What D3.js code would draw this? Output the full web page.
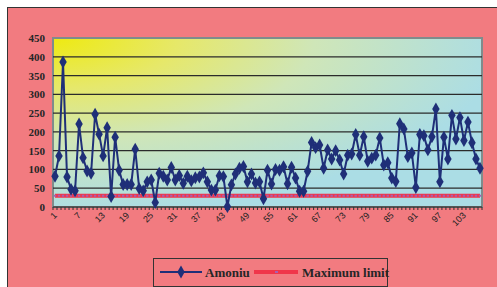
<!DOCTYPE html>
<html>
<head>
<meta charset="utf-8">
<script src="https://cdn.jsdelivr.net/npm/d3@7"></script>
<style>
  body { margin: 0; background: #fff; }
  svg { display: block; }
</style>
</head>
<body>
<div id="chart"></div>
<script>
// Chart data
const seriesNames = ["Amoniu", "Maximum limit"];
const amoniu = [
    82, 136, 386, 80, 47, 43, 221, 131, 96, 90,
    247, 194, 136, 211, 28, 186, 98, 60, 60, 60,
    154, 49, 43, 67, 72, 12, 90, 82, 72, 105,
    72, 84, 63, 82, 70, 78, 80, 91, 67, 45,
    45, 83, 81, 1, 59, 88, 103, 108, 67, 88,
    64, 67, 22, 98, 61, 100, 98, 107, 62, 106,
    77, 42, 42, 95, 172, 158, 165, 103, 152, 128,
    150, 125, 88, 138, 141, 193, 138, 187, 122, 130,
    138, 184, 112, 118, 77, 68, 222, 208, 134, 144,
    52, 193, 190, 152, 187, 261, 67, 186, 128, 244,
    181, 238, 177, 226, 171, 128, 103
];
const maxLimit = amoniu.map(() => 30);
const categories = amoniu.map((_, i) => i + 1);
const yTicks = [0, 50, 100, 150, 200, 250, 300, 350, 400, 450];
const xLabels = categories.filter(c => (c - 1) % 6 === 0);

const width = 497, height = 287;
const plot = { left: 53, top: 38, right: 482, bottom: 207 };

const svg = d3.select("#chart").append("svg")
    .attr("width", width)
    .attr("height", height);

const defs = svg.append("defs");
const grad = defs.append("radialGradient")
    .attr("id", "plotBg")
    .attr("cx", 0).attr("cy", 0).attr("r", 1.05)
    .attr("fx", 0).attr("fy", 0);
grad.append("stop").attr("offset", "0%").attr("stop-color", "#eeea10");
grad.append("stop").attr("offset", "28%").attr("stop-color", "#e6e86a");
grad.append("stop").attr("offset", "58%").attr("stop-color", "#cfe6b8");
grad.append("stop").attr("offset", "100%").attr("stop-color", "#abdde5");

// chart area (pink) with border top/left
svg.append("rect")
    .attr("x", 7.5).attr("y", 7.5)
    .attr("width", width).attr("height", height)
    .attr("fill", "#f27b80")
    .attr("stroke", "#333")
    .attr("stroke-width", 1);

const x = d3.scaleBand()
    .domain(categories)
    .range([plot.left, plot.right])
    .padding(0);
const cx = d => x(d) + x.bandwidth() / 2;

const y = d3.scaleLinear()
    .domain([0, 450])
    .range([plot.bottom, plot.top]);

// plot area
svg.append("rect")
    .attr("x", plot.left).attr("y", plot.top)
    .attr("width", plot.right - plot.left)
    .attr("height", plot.bottom - plot.top)
    .attr("fill", "url(#plotBg)")
    .attr("stroke", "#7f8c8c")
    .attr("stroke-width", 2);

// gridlines
svg.append("g")
    .selectAll("line")
    .data(yTicks.filter(t => t > 0 && t < 450))
    .join("line")
    .attr("x1", plot.left).attr("x2", plot.right)
    .attr("y1", d => y(d)).attr("y2", d => y(d))
    .attr("stroke", "#2b2b2b")
    .attr("stroke-width", 1.3);

// y axis labels
svg.append("g")
    .selectAll("text")
    .data(yTicks)
    .join("text")
    .attr("x", 45)
    .attr("y", d => y(d) + 4)
    .attr("text-anchor", "end")
    .style("font-family", "'Liberation Serif', serif")
    .style("font-weight", "bold")
    .style("font-size", "11px")
    .style("fill", "#262626")
    .text(d => d);

// x axis line + ticks
svg.append("line")
    .attr("x1", plot.left).attr("x2", plot.right)
    .attr("y1", plot.bottom).attr("y2", plot.bottom)
    .attr("stroke", "#555").attr("stroke-width", 2);
svg.append("g")
    .selectAll("line")
    .data(categories.concat([categories.length + 1]))
    .join("line")
    .attr("x1", d => plot.left + (d - 1) * x.bandwidth())
    .attr("x2", d => plot.left + (d - 1) * x.bandwidth())
    .attr("y1", plot.bottom)
    .attr("y2", plot.bottom + 3)
    .attr("stroke", "#333").attr("stroke-width", 1);

// x labels
svg.append("g")
    .selectAll("text")
    .data(xLabels)
    .join("text")
    .attr("transform", d => `translate(${cx(d) + 2.5},${plot.bottom + 9}) rotate(-45)`)
    .attr("text-anchor", "end")
    .style("font-family", "'Liberation Sans', Arial, sans-serif")
    .style("font-size", "9px")
    .style("fill", "#222")
    .text(d => d);

// Maximum limit series
const line = d3.line().x((d, i) => cx(categories[i])).y(d => y(d));
svg.append("path")
    .datum(maxLimit)
    .attr("d", line)
    .attr("fill", "none")
    .attr("stroke", "#f0364a")
    .attr("stroke-width", 4);
svg.append("g")
    .selectAll("rect")
    .data(maxLimit)
    .join("rect")
    .attr("x", (d, i) => cx(categories[i]) - 1.2)
    .attr("y", d => y(d) - 1)
    .attr("width", 2.4).attr("height", 2)
    .attr("fill", "#a860b0");

// Amoniu series
svg.append("path")
    .datum(amoniu)
    .attr("d", line)
    .attr("fill", "none")
    .attr("stroke", "#1f2f78")
    .attr("stroke-width", 2);
const diamond = d3.symbol().type(d3.symbolDiamond).size(48);
svg.append("g")
    .selectAll("path")
    .data(amoniu)
    .join("path")
    .attr("d", diamond)
    .attr("transform", (d, i) => `translate(${cx(categories[i])},${y(d)})`)
    .attr("fill", "#1f2f78");

// legend
const legend = svg.append("g");
legend.append("rect")
    .attr("x", 153.5).attr("y", 258.5)
    .attr("width", 234).attr("height", 28)
    .attr("fill", "none")
    .attr("stroke", "#333")
    .attr("stroke-width", 1);
legend.append("line")
    .attr("x1", 160).attr("x2", 202).attr("y1", 272).attr("y2", 272)
    .attr("stroke", "#1f2f78").attr("stroke-width", 2);
legend.append("path")
    .attr("d", diamond)
    .attr("transform", "translate(181,272)")
    .attr("fill", "#1f2f78");
legend.append("line")
    .attr("x1", 254).attr("x2", 298).attr("y1", 272).attr("y2", 272)
    .attr("stroke", "#f0364a").attr("stroke-width", 4);
legend.append("rect")
    .attr("x", 275).attr("y", 271).attr("width", 3).attr("height", 2)
    .attr("fill", "#a860b0");
legend.selectAll("text")
    .data(seriesNames)
    .join("text")
    .attr("x", (d, i) => i === 0 ? 205 : 302)
    .attr("y", 277)
    .style("font-family", "'Liberation Serif', serif")
    .style("font-weight", "bold")
    .style("font-size", "13px")
    .style("fill", "#262626")
    .text(d => d);
</script>
</body>
</html>
